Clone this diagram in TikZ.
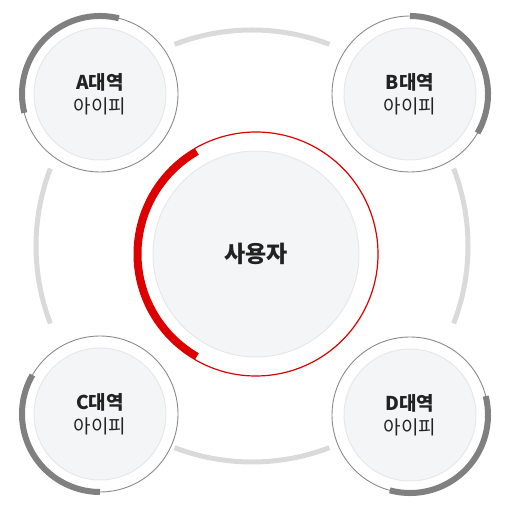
\documentclass[tikz,border=0pt]{standalone}
\usepackage{fontspec}
\setmainfont{Noto Sans CJK KR}
\usetikzlibrary{positioning}
\definecolor{ringgray}{HTML}{808080}
\definecolor{thingray}{HTML}{8A8A8A}
\definecolor{linkgray}{HTML}{DADADA}
\definecolor{fillgray}{HTML}{F3F5F6}
\definecolor{edgegray}{HTML}{E8E8E8}
\definecolor{userred}{HTML}{DD0000}
\definecolor{textdark}{HTML}{222222}
\tikzset{
  disc/.style={circle, fill=fillgray, draw=edgegray, line width=1pt, text=textdark, align=center, inner sep=0pt},
  zone/.style={disc, minimum size=132pt, font=\fontsize{19}{24}\selectfont},
  link/.style={linkgray, line width=5pt},
  thinring/.style={thingray, line width=0.9pt},
  thickring/.style={ringgray, line width=6pt}
}
\newcommand{\zonering}[3]{% node, start angle, end angle
  \draw[thinring] (#1.center) circle (78);
  \draw[thickring] (#1.center) ++(#2:78) arc[start angle=#2, end angle=#3, radius=78];
}
\begin{document}
\begin{tikzpicture}[x=1pt,y=1pt]
  \useasboundingbox (0,0) rectangle (510,510);
  \coordinate (hub) at (256,256);
  \coordinate (ring) at (252,264);

  % links between the zones
  \draw[link] (ring) ++(69:216) arc[start angle=69, end angle=111, radius=216];
  \draw[link] (ring) ++(159:216) arc[start angle=159, end angle=201, radius=216];
  \draw[link] (ring) ++(249:216) arc[start angle=249, end angle=291, radius=216];
  \draw[link] (ring) ++(-21:216) arc[start angle=-21, end angle=21, radius=216];

  % user
  \node[disc, minimum size=206pt, font=\fontsize{23}{26}\selectfont\bfseries] (user) at (hub) {사용자};
  \draw[userred, line width=1.2pt] (user.center) ++(-120:122) arc[start angle=-120, end angle=120, radius=122];
  \draw[userred, line width=8pt] (user.center) ++(120:118.5) arc[start angle=120, end angle=240, radius=118.5];

  % zones
  \node[zone] (zoneA) at (100,416) {\textbf{A대역}\\아이피};
  \node[zone] (zoneB) at (410,416) {\textbf{B대역}\\아이피};
  \node[zone] (zoneC) at (100,96) {\textbf{C대역}\\아이피};
  \node[zone] (zoneD) at (410,95) {\textbf{D대역}\\아이피};

  \zonering{zoneA}{76}{194}
  \zonering{zoneB}{-30}{90}
  \zonering{zoneC}{150}{270}
  \zonering{zoneD}{-105}{14}
\end{tikzpicture}
\end{document}
